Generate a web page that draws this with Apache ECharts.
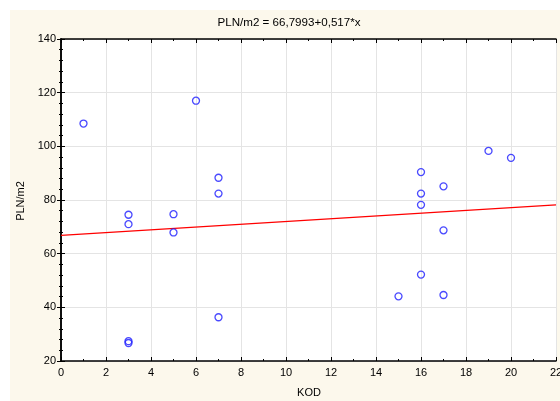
<!DOCTYPE html>
<html>
<head>
<meta charset="utf-8">
<script src="https://cdn.jsdelivr.net/npm/echarts@6/dist/echarts.min.js"></script>
<style>html,body{margin:0;padding:0;background:#fff}#c{width:560px;height:401px}</style>
</head>
<body>
<div id="c"></div>
<script>
const titleText = 'PLN/m2 = 66,7993+0,517*x';
const xName = 'KOD';
const yName = 'PLN/m2';
const kod = [1, 3, 3, 3, 3, 5, 5, 6, 7, 7, 7, 15, 16, 16, 16, 16, 17, 17, 17, 19, 20];
const plnM2 = [108.5, 74.5, 71, 27.4, 26.7, 74.7, 67.9, 117, 88.3, 82.4, 36.3, 44.1, 90.4, 82.4, 78.2, 52.2, 85.1, 68.7, 44.6, 98.3, 95.7];
const intercept = 66.7993;
const slope = 0.517;
const xRange = [0, 22];
const yRange = [20, 140];

const pts = kod.map((k, i) => [k, plnM2[i]]);
const fitLine = xRange.map(x => [x, intercept + slope * x]);

const font = 'Arial, "Liberation Sans", sans-serif';
const chart = echarts.init(document.getElementById('c'), null, {renderer: 'canvas'});
const tickIn = {show: true, inside: true, length: 4, lineStyle: {color: '#000', width: 1}};
const minorIn = {show: true, length: 2, lineStyle: {color: '#000', width: 1}};
const axisLine = {show: true, lineStyle: {color: '#000', width: 1.5}};
chart.setOption({
  backgroundColor: '#fff',
  animation: false,
  graphic: [
    {type: 'rect', shape: {x: 10, y: 10, width: 560, height: 400}, style: {fill: '#FCF8EC'}, z: -10, silent: true},
    {type: 'text', x: 289, y: 23, style: {text: titleText, font: '11.6px ' + font, fill: '#000', textAlign: 'center', textVerticalAlign: 'middle'}, z: 10},
    {type: 'text', x: 309, y: 393, style: {text: xName, font: '11px ' + font, fill: '#000', textAlign: 'center', textVerticalAlign: 'middle'}, z: 10},
    {type: 'text', x: 21, y: 201, rotation: Math.PI / 2, style: {text: yName, font: '11px ' + font, fill: '#000', textAlign: 'center', textVerticalAlign: 'middle'}, z: 10}
  ],
  grid: {left: 61, top: 39, right: 4, bottom: 40, show: true, backgroundColor: '#fff', borderWidth: 0, outerBoundsMode: 'none', containLabel: false},
  xAxis: [
    {type: 'value', min: xRange[0], max: xRange[1], interval: 2, position: 'bottom',
     axisLine: axisLine, axisTick: tickIn, minorTick: Object.assign({splitNumber: 2}, minorIn),
     splitLine: {show: true, lineStyle: {color: '#E4E4E4', width: 1}},
     axisLabel: {color: '#000', fontSize: 11, fontFamily: font, margin: 6, showMinLabel: true, showMaxLabel: true}},
    {type: 'value', min: xRange[0], max: xRange[1], interval: 2, position: 'top',
     axisLine: axisLine, axisTick: tickIn, minorTick: Object.assign({splitNumber: 2}, minorIn),
     splitLine: {show: false}, axisLabel: {show: false}}
  ],
  yAxis: [
    {type: 'value', min: yRange[0], max: yRange[1], interval: 20, position: 'left',
     axisLine: axisLine, axisTick: tickIn, minorTick: Object.assign({splitNumber: 5}, minorIn),
     splitLine: {show: true, lineStyle: {color: '#E4E4E4', width: 1}},
     axisLabel: {color: '#000', fontSize: 11, fontFamily: font, margin: 5}},
    {type: 'value', min: yRange[0], max: yRange[1], interval: 20, position: 'right',
     axisLine: axisLine, axisTick: tickIn, minorTick: Object.assign({splitNumber: 5}, minorIn),
     splitLine: {show: false}, axisLabel: {show: false}}
  ],
  series: [
    {type: 'line', data: fitLine, xAxisIndex: 0, yAxisIndex: 0, symbol: 'none',
     lineStyle: {color: '#FF0000', width: 1.2}, z: 3, silent: true},
    {type: 'scatter', data: pts, xAxisIndex: 0, yAxisIndex: 0, symbol: 'circle', symbolSize: 7,
     itemStyle: {color: 'rgba(255,255,255,0)', borderColor: '#1C1CFF', borderWidth: 1.3}, z: 4}
  ]
});
</script>
</body>
</html>
